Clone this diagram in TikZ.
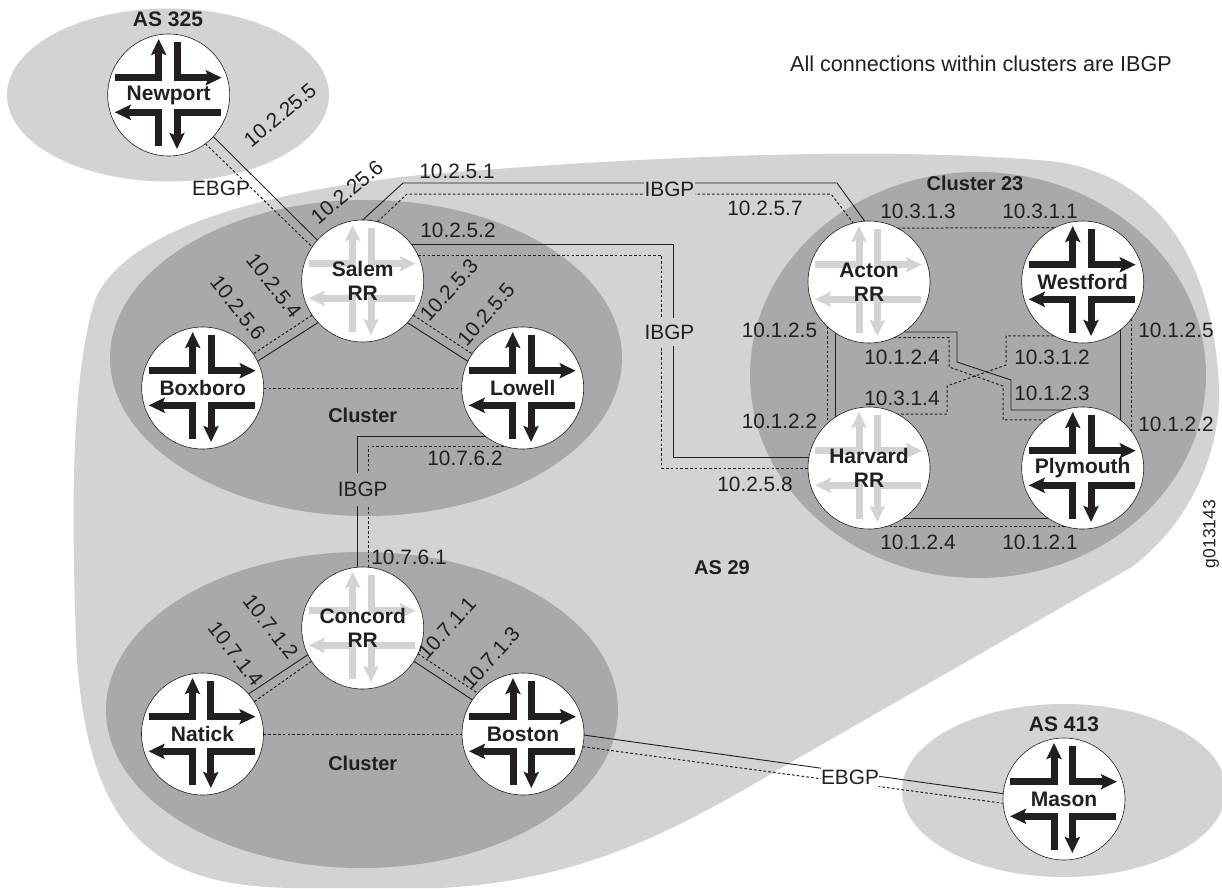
\documentclass[tikz,border=0pt]{standalone}
\usepackage{fontspec}
\setmainfont{Liberation Sans}
\usetikzlibrary{arrows.meta,positioning}
\definecolor{ink}{HTML}{231F20}
\definecolor{aslight}{HTML}{D1D3D4}
\definecolor{clusterdark}{HTML}{A7A9AC}
\newcommand{\routerarrows}[2]{
  \begin{scope}[shift={(#1)},line width=7,draw=#2,
    -{Stealth[length=16pt,width=15pt,inset=3pt,fill=#2]}]
    \draw (-54,-17.3) -| (-10,-56);
    \draw (8.3,-53) |- (53,-17.3);
    \draw (52,17.3) -| (8.3,54);
    \draw (-10,51) |- (-54,17.3);
  \end{scope}
}
\tikzstyle{router}=[circle,draw=ink,fill=white,semithick,minimum size=122,inner sep=0,outer sep=0]
\tikzstyle{routername}=[text=ink,inner sep=0,align=center,font=\fontsize{21}{24}\selectfont\bfseries]
\tikzstyle{addr}=[text=ink,inner sep=0,font=\fontsize{20.8}{24}\selectfont]
\tikzstyle{title}=[text=ink,inner sep=0,font=\fontsize{20}{24}\selectfont\bfseries]
\tikzstyle{session}=[addr,inner xsep=0.5,minimum height=28]
\tikzstyle{ebgp}=[ink,line width=0.9]
\tikzstyle{peer}=[ink,line width=1,dash pattern=on 2.6pt off 2.2pt]
\begin{document}
\begin{tikzpicture}[x=1pt,y=-1pt]
\clip (0,0) rectangle (1222,888);
\fill[white] (0,0) rectangle (1222,888);
% autonomous systems
\fill[aslight] (168,95) ellipse [x radius=161,y radius=86.5];
\fill[aslight] (1064,790.5) ellipse [x radius=162,y radius=86.5];
\fill[aslight] (1037,160) .. controls (1130,165) and (1210,225) .. (1219,385)
  .. controls (1222,450) and (1190,525) .. (1130,568) -- (800,757)
  .. controls (700,815) and (600,880) .. (440,888) -- (290,888)
  .. controls (170,885) and (85,850) .. (76,640)
  .. controls (72,520) and (70,380) .. (95,300)
  .. controls (120,240) and (230,195) .. (420,175)
  .. controls (600,160) and (850,145) .. (1037,160) -- cycle;
% clusters
\fill[clusterdark] (366,358) ellipse [x radius=256,y radius=158];
\fill[clusterdark] (362,710) ellipse [x radius=256,y radius=158];
\fill[clusterdark] (978,375) ellipse [x radius=228,y radius=203];
% routers
\foreach \name/\x/\y in {Newport/168.7/95, Boxboro/202.7/388, Lowell/522.7/388, Natick/202.5/734, Boston/523/734, Mason/1064/799, Westford/1082.7/282, Plymouth/1082.7/468}{
  \node[router] (\name) at (\x,\y) {};
  \routerarrows{\name}{ink}
  \node[routername] at (\name) {\name};
}
\foreach \name/\x/\y in {Salem/362.7/281, Concord/362.7/628, Acton/869/282, Harvard/869/468}{
  \node[router] (\name) at (\x,\y) {};
  \routerarrows{\name}{aslight}
  \node[routername] at (\name) {\name\\RR};
}
% external sessions
\draw[ebgp] (Newport.-43) -- (Salem.138);
\draw[peer] (Newport.-53) -- (Salem.146.4);
\draw[ebgp] (Boston.-1) -- (Mason.175.5);
\draw[peer] (Boston.-12) -- (Mason.184.5);
% between clusters
\draw[ebgp] (Salem.90) -- (403,183) -- (837,183) -- (Acton.94);
\draw[peer] (Salem.76.6) -- (407,194) -- (831,194) -- (Acton.105);
\draw[ebgp] (Salem.37) -| (673.3,350) |- (Harvard.170.9);
\draw[peer] (Salem.25.2) -| (661.7,350) |- (Harvard.180.3);
\draw[ebgp] (Lowell.233.4) -| (Concord.95.4);
\draw[peer] (Lowell.252) -| (Concord.85);
% within clusters
\draw[ebgp] (Salem.223) -- (Boxboro.26.9);
\draw[peer] (Salem.214.5) -- (Boxboro.34);
\draw[ebgp] (Salem.-43.3) -- (Lowell.154.8);
\draw[peer] (Salem.-34.3) -- (Lowell.146.5);
\draw[peer] (Boxboro.east) -- (Lowell.west);
\draw[ebgp] (Concord.206) -- (Natick.41.2);
\draw[peer] (Concord.213.7) -- (Natick.32.9);
\draw[ebgp] (Concord.-33.8) -- (Boston.146.5);
\draw[peer] (Concord.-25.2) -- (Boston.138.7);
\draw[peer] (Natick.east) -- (Boston.west);
\draw[peer] (Acton.62.3) -- (Westford.117.7);
\draw[ebgp] (Harvard.-56.7) -- (Plymouth.236.7);
\draw[peer] (Harvard.-75.3) -- (Plymouth.255.3);
\draw[ebgp] (Acton.-123.9) -- (Harvard.123.9);
\draw[peer] (Acton.-133.5) -- (Harvard.133.5);
\draw[ebgp] (Westford.-52.3) -- (Plymouth.52.3);
\draw[peer] (Westford.-37.8) -- (Plymouth.37.8);
\draw[ebgp] (Acton.-55) -| (957,362) -- (1011,380) |- (Plymouth.108);
\draw[peer] (Acton.-66.7) -| (949,367) -- (1003,386) |- (Plymouth.128.1);
\draw[peer] (Westford.242.3) -| (1006,365) -- (947,386) |- (Harvard.62.3);
% session labels
\node[session,fill=aslight] (ibgptop) at (669.5,189) {IBGP};
\node[session,fill=aslight] (ibgpmid) at (669.5,332) {IBGP};
\node[session,fill=clusterdark,minimum height=33] (ibgpleft) at (362.7,489) {IBGP};
\node[session,fill=white] (ebgpmason) at (850,777) {EBGP};
\node[addr] (ebgpnewport) at (221,188) {EBGP};
% addresses
\foreach \x/\y/\t in {457/171/10.2.5.1, 458/230/10.2.5.2, 765/208/10.2.5.7, 755/484/10.2.5.8, 465/458/10.7.6.2, 409/557/10.7.6.1, 918/211/10.3.1.3, 1040/211/10.3.1.1, 779.5/330/10.1.2.5, 779.5/421/10.1.2.2, 902/357/10.1.2.4, 902/398/10.3.1.4, 1052/357/10.3.1.2, 1052/393/10.1.2.3, 1176/330/10.1.2.5, 1176/424/10.1.2.2, 918/542/10.1.2.4, 1040/542/10.1.2.1}
  \node[addr] at (\x,\y) {\t};
\foreach \x/\y/\a/\t in {280/115/40/10.2.25.5, 347/192/40/10.2.25.6, 274/286/-52/10.2.5.4, 238/308/-52/10.2.5.6, 449/290/48/10.2.5.3, 486/314/49/10.2.5.5, 270.7/627/-52/10.7.1.2, 235.7/654/-52/10.7.1.4, 447/628/48/10.7.1.1, 490.7/658/48/10.7.1.3}
  \node[addr,rotate=\a] at (\x,\y) {\t};
% titles
\node[title,font=\fontsize{21}{24}\selectfont\bfseries] (as325) at (168,19) {AS 325};
\node[title,font=\fontsize{21}{24}\selectfont\bfseries] (as413) at (1064,724) {AS 413};
\node[title] (as29) at (722,568) {AS 29};
\node[title] (cluster23) at (975,183) {Cluster 23};
\node[title] (clustersalem) at (362.7,415) {Cluster};
\node[title] (clusterconcord) at (362.7,763) {Cluster};
\node[addr,font=\fontsize{21.6}{24}\selectfont] (note) at (981,64) {All connections within clusters are IBGP};
\node[addr,rotate=90,font=\fontsize{17.5}{20}\selectfont] (figid) at (1211,534) {g013143};
\end{tikzpicture}
\end{document}
